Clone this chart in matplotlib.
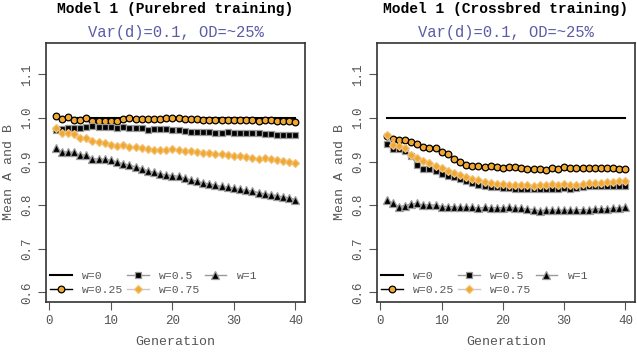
import numpy as np
import matplotlib
matplotlib.use("Agg")
import matplotlib.pyplot as plt

plt.rcParams['font.family'] = ['Liberation Mono', 'DejaVu Sans Mono']

gen = np.arange(1, 41)

# Purebred training
pure_w0 = [1.0] * 40
pure_w025 = [1.005, 0.998, 1.003, 0.996, 0.995, 0.999, 0.993, 0.994, 0.994, 0.994,
             0.993, 0.997, 0.999, 0.998, 0.997, 0.998, 0.997, 0.998, 0.999, 1.000,
             0.999, 0.998, 0.998, 0.997, 0.995, 0.996, 0.995, 0.995, 0.995, 0.996,
             0.995, 0.995, 0.995, 0.994, 0.995, 0.995, 0.994, 0.994, 0.994, 0.991]
pure_w05 = [0.972, 0.975, 0.976, 0.976, 0.977, 0.980, 0.981, 0.980, 0.980, 0.979,
            0.978, 0.979, 0.978, 0.977, 0.976, 0.973, 0.974, 0.974, 0.974, 0.972,
            0.973, 0.970, 0.968, 0.969, 0.967, 0.968, 0.966, 0.965, 0.967, 0.965,
            0.965, 0.965, 0.965, 0.965, 0.964, 0.964, 0.962, 0.962, 0.962, 0.961]
pure_w075 = [0.978, 0.965, 0.965, 0.963, 0.955, 0.955, 0.948, 0.944, 0.942, 0.937,
             0.936, 0.937, 0.934, 0.933, 0.932, 0.929, 0.927, 0.926, 0.927, 0.928,
             0.926, 0.925, 0.925, 0.922, 0.920, 0.920, 0.918, 0.917, 0.915, 0.913,
             0.912, 0.910, 0.908, 0.907, 0.908, 0.905, 0.903, 0.901, 0.900, 0.896]
pure_w1 = [0.932, 0.922, 0.922, 0.921, 0.914, 0.916, 0.906, 0.906, 0.905, 0.903,
           0.899, 0.895, 0.892, 0.888, 0.884, 0.879, 0.875, 0.872, 0.869, 0.868,
           0.866, 0.862, 0.858, 0.855, 0.851, 0.849, 0.846, 0.843, 0.841, 0.839,
           0.836, 0.834, 0.832, 0.829, 0.826, 0.824, 0.822, 0.819, 0.817, 0.813]

# Crossbred training
cross_w0 = [1.0] * 40
cross_w025 = [0.958, 0.951, 0.950, 0.949, 0.944, 0.940, 0.933, 0.932, 0.932, 0.922,
              0.918, 0.907, 0.900, 0.892, 0.891, 0.891, 0.888, 0.889, 0.887, 0.886,
              0.888, 0.887, 0.886, 0.884, 0.883, 0.882, 0.881, 0.885, 0.884, 0.887,
              0.886, 0.886, 0.886, 0.885, 0.886, 0.886, 0.886, 0.885, 0.884, 0.882]
cross_w05 = [0.941, 0.930, 0.928, 0.925, 0.912, 0.893, 0.883, 0.882, 0.878, 0.872,
             0.868, 0.865, 0.860, 0.855, 0.850, 0.847, 0.845, 0.842, 0.841, 0.840,
             0.839, 0.838, 0.837, 0.837, 0.836, 0.837, 0.836, 0.838, 0.837, 0.840,
             0.838, 0.840, 0.842, 0.843, 0.843, 0.844, 0.843, 0.845, 0.845, 0.843]
cross_w075 = [0.961, 0.938, 0.935, 0.932, 0.915, 0.908, 0.902, 0.896, 0.890, 0.885,
              0.879, 0.874, 0.870, 0.865, 0.861, 0.857, 0.853, 0.850, 0.849, 0.848,
              0.846, 0.846, 0.847, 0.846, 0.845, 0.846, 0.846, 0.848, 0.846, 0.849,
              0.847, 0.846, 0.849, 0.850, 0.851, 0.851, 0.853, 0.854, 0.856, 0.855]
cross_w1 = [0.813, 0.805, 0.797, 0.799, 0.803, 0.804, 0.800, 0.801, 0.800, 0.797,
            0.797, 0.796, 0.795, 0.795, 0.795, 0.793, 0.795, 0.794, 0.794, 0.794,
            0.795, 0.793, 0.793, 0.791, 0.790, 0.787, 0.789, 0.789, 0.788, 0.789,
            0.788, 0.789, 0.790, 0.789, 0.792, 0.791, 0.792, 0.793, 0.794, 0.796]

titles = ["Model 1 (Purebred training)", "Model 1 (Crossbred training)"]
subtitle = "Var(d)=0.1, OD=~25%"
labels = ["w=0", "w=0.25", "w=0.5", "w=0.75", "w=1"]

orange = "#F0A830"
grey = "#9a9a9a"
txt = "#555555"

fig = plt.figure(figsize=(6.37, 3.53), dpi=100)
ax1 = fig.add_axes([0.0722, 0.1445, 0.4066, 0.7337])
ax2 = fig.add_axes([0.5918, 0.1445, 0.4050, 0.7337])

panels = [
    (ax1, titles[0], [pure_w0, pure_w025, pure_w05, pure_w075, pure_w1]),
    (ax2, titles[1], [cross_w0, cross_w025, cross_w05, cross_w075, cross_w1]),
]

for ax, title, series in panels:
    w0, w025, w05, w075, w1 = series
    ax.plot(gen, w0, color="black", lw=1.5, label=labels[0])
    ax.plot(gen, w025, color="black", lw=1, marker="o", ms=4.8,
            mfc=orange, mec="black", mew=0.9, label=labels[1])
    ax.plot(gen, w05, color=grey, lw=1, marker="s", ms=4.2,
            mfc="black", mec=grey, mew=0.9, label=labels[2])
    ax.plot(gen, w075, color="#c8c8c8", lw=1, marker="D", ms=4.3,
            mfc=orange, mec="#f2c27a", mew=0.9, label=labels[3])
    ax.plot(gen, w1, color=grey, lw=1, marker="^", ms=5.2,
            mfc="black", mec=grey, mew=0.9, label=labels[4])

    ax.set_xlim(1 - 0.04 * 39, 40 + 0.04 * 39)
    ax.set_ylim(0.6 - 0.04 * 0.55, 1.15 + 0.04 * 0.55)
    ax.set_xticks([0, 10, 20, 30, 40])
    ax.set_yticks([0.6, 0.7, 0.8, 0.9, 1.0, 1.1])
    ax.set_yticklabels(["0.6", "0.7", "0.8", "0.9", "1.0", "1.1"],
                       rotation=90, va="center")
    ax.tick_params(colors=txt, labelcolor=txt, labelsize=9, length=6, width=0.8)
    for s in ax.spines.values():
        s.set_color("#333333")
        s.set_linewidth(1.2)
    ax.set_xlabel("Generation", color=txt, fontsize=9.5, labelpad=6)
    ax.set_ylabel("Mean A and B", color=txt, fontsize=9.5, labelpad=4)
    ax.text(0.5, 1.131, title, transform=ax.transAxes, ha="center", va="center",
            fontsize=10.5, fontweight="bold", color="black")
    ax.text(0.5, 1.042, subtitle, transform=ax.transAxes, ha="center", va="center",
            fontsize=11.2, color="#5b5ba6")
    leg = ax.legend(loc="lower left", bbox_to_anchor=(0.008, 0.02), ncol=3,
                    frameon=False, fontsize=8.2, handlelength=1.9,
                    handletextpad=0.9, columnspacing=0.35, labelspacing=0.3,
                    borderaxespad=0, borderpad=0.2)
    for t in leg.get_texts():
        t.set_color(txt)

fig.savefig("out.png", dpi=100)
